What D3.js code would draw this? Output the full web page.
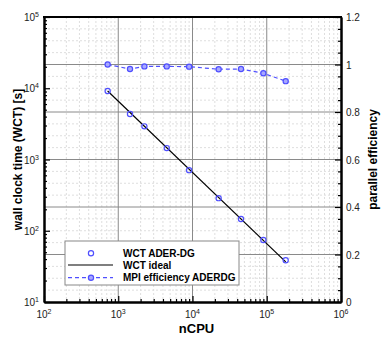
<!DOCTYPE html>
<html>
<head>
<meta charset="utf-8">
<script src="https://cdn.jsdelivr.net/npm/d3@7"></script>
<style>
	body { margin: 0; background: #fff; }
	svg { font-family: "Liberation Sans", Arial, sans-serif; }
</style>
</head>
<body>
<div id="plot"></div>
<script>
const margin = { top: 17, right: 41, bottom: 38, left: 44 },
	width = 382 - margin.left - margin.right,
	height = 340 - margin.top - margin.bottom;

// data
const ncpu = [720, 1440, 2250, 4500, 9000, 22500, 45000, 90000, 180000];
const wct = [9140, 4345, 2917, 1445, 709, 287, 146, 74, 38.6];
const idealCpu = [720, 180000];
const idealWct = [9140, 36.6];
const efficiency = [1.0, 0.981, 0.992, 0.992, 0.991, 0.98, 0.981, 0.963, 0.93];

const xTicks = [1e2, 1e3, 1e4, 1e5, 1e6];
const yTicks = [1e1, 1e2, 1e3, 1e4, 1e5];
const effTicks = [0, 0.2, 0.4, 0.6, 0.8, 1, 1.2];

const blue = "#4f4fff";

const svg = d3
	.select("#plot")
	.append("svg")
	.attr("width", 382)
	.attr("height", 340)
	.append("g")
	.attr("transform", `translate(${margin.left},${margin.top})`);

const x = d3.scaleLog().domain([1e2, 1e6]).range([0, width]);
const y = d3.scaleLog().domain([1e1, 1e5]).range([height, 0]);
const y2 = d3.scaleLinear().domain([0, 1.2]).range([height, 0]);

// minor values
const xMinor = [], yMinor = [];
for (let e = 2; e < 6; e++) for (let m = 2; m < 10; m++) xMinor.push(m * Math.pow(10, e));
for (let e = 1; e < 5; e++) for (let m = 2; m < 10; m++) yMinor.push(m * Math.pow(10, e));
const effMinor = d3.range(0, 1.2001, 0.05).filter((v) => Math.abs(v * 5 - Math.round(v * 5)) > 1e-6);

// grid
const grid = svg.append("g");
grid.selectAll(".vmin").data(xMinor).join("line")
	.attr("x1", (d) => x(d)).attr("x2", (d) => x(d))
	.attr("y1", 0).attr("y2", height)
	.attr("stroke", "#dedede").attr("stroke-dasharray", "2,2");
grid.selectAll(".hmin").data(effMinor).join("line")
	.attr("x1", 0).attr("x2", width)
	.attr("y1", (d) => y2(d)).attr("y2", (d) => y2(d))
	.attr("stroke", "#dedede").attr("stroke-dasharray", "2,2");
grid.selectAll(".vmaj").data(xTicks.slice(1, -1)).join("line")
	.attr("x1", (d) => x(d)).attr("x2", (d) => x(d))
	.attr("y1", 0).attr("y2", height)
	.attr("stroke", "#8a8a8a");
grid.selectAll(".hmaj").data(effTicks.slice(1, -1)).join("line")
	.attr("x1", 0).attr("x2", width)
	.attr("y1", (d) => y2(d)).attr("y2", (d) => y2(d))
	.attr("stroke", "#8a8a8a");

// axes with inward ticks
function styleAxis(g) {
	g.select(".domain").attr("stroke", "#000").attr("stroke-width", 2);
	g.selectAll(".tick line").attr("stroke", "#000").attr("stroke-width", 1.2);
	g.selectAll(".tick text").remove();
}

svg.append("g")
	.attr("transform", `translate(0,${height})`)
	.call(d3.axisBottom(x).tickValues(xTicks).tickSize(-6).tickSizeOuter(0))
	.call(styleAxis);
svg.append("g")
	.attr("transform", `translate(0,${height})`)
	.call(d3.axisBottom(x).tickValues(xMinor).tickSize(-3).tickSizeOuter(0))
	.call(styleAxis);
svg.append("g")
	.call(d3.axisLeft(y).tickValues(yTicks).tickSize(-6).tickSizeOuter(0))
	.call(styleAxis);
svg.append("g")
	.call(d3.axisLeft(y).tickValues(yMinor).tickSize(-3).tickSizeOuter(0))
	.call(styleAxis);
svg.append("g")
	.attr("transform", `translate(${width},0)`)
	.call(d3.axisRight(y2).tickValues(effTicks).tickSize(-6).tickSizeOuter(0))
	.call(styleAxis);
svg.append("g")
	.attr("transform", `translate(${width},0)`)
	.call(d3.axisRight(y2).tickValues(effMinor).tickSize(-3).tickSizeOuter(0))
	.call(styleAxis);
svg.append("line")
	.attr("x1", -1).attr("x2", width + 1).attr("y1", 0).attr("y2", 0)
	.attr("stroke", "#000").attr("stroke-width", 2);

// tick labels: 10 with exponent
function powLabel(g, tx, ty, anchor, exp) {
	const t = g.append("text")
		.attr("x", tx).attr("y", ty)
		.attr("text-anchor", anchor)
		.attr("font-size", 10)
		.attr("fill", "#222");
	t.append("tspan").text("10");
	t.append("tspan").attr("dy", -4).attr("font-size", 7).text(exp);
}
xTicks.forEach((d) => powLabel(svg, x(d), height + 16, "middle", Math.round(Math.log10(d))));
yTicks.forEach((d) => powLabel(svg, -5, y(d) + 4, "end", Math.round(Math.log10(d))));

svg.selectAll(".efflab").data(effTicks).join("text")
	.attr("x", width + 5)
	.attr("y", (d) => y2(d) + 4)
	.attr("font-size", 10)
	.attr("fill", "#222")
	.text((d) => d3.format("~g")(d));

// axis titles
svg.append("text")
	.attr("x", width / 2 + 4).attr("y", height + 31)
	.attr("text-anchor", "middle")
	.attr("font-size", 13).attr("font-weight", "bold")
	.text("nCPU");
svg.append("text")
	.attr("transform", `translate(-22,${height / 2}) rotate(-90)`)
	.attr("text-anchor", "middle")
	.attr("font-size", 12).attr("font-weight", "bold")
	.text("wall clock time (WCT) [s]");
svg.append("text")
	.attr("transform", `translate(${width + 36},${height / 2}) rotate(-90)`)
	.attr("text-anchor", "middle")
	.attr("font-size", 12).attr("font-weight", "bold")
	.text("parallel efficiency");

// ideal line
svg.append("path")
	.datum(idealCpu.map((c, i) => [c, idealWct[i]]))
	.attr("fill", "none")
	.attr("stroke", "#000")
	.attr("stroke-width", 1.2)
	.attr("d", d3.line().x((d) => x(d[0])).y((d) => y(d[1])));

// efficiency
svg.append("path")
	.datum(ncpu.map((c, i) => [c, efficiency[i]]))
	.attr("fill", "none")
	.attr("stroke", blue)
	.attr("stroke-width", 1.2)
	.attr("stroke-dasharray", "4,3")
	.attr("d", d3.line().x((d) => x(d[0])).y((d) => y2(d[1])));
svg.selectAll(".effpt").data(ncpu.map((c, i) => [c, efficiency[i]])).join("circle")
	.attr("cx", (d) => x(d[0])).attr("cy", (d) => y2(d[1]))
	.attr("r", 2.6)
	.attr("fill", "#a8a8ff").attr("stroke", blue).attr("stroke-width", 1.2);

// WCT points
svg.selectAll(".wctpt").data(ncpu.map((c, i) => [c, wct[i]])).join("circle")
	.attr("cx", (d) => x(d[0])).attr("cy", (d) => y(d[1]))
	.attr("r", 2.6)
	.attr("fill", "none").attr("stroke", blue).attr("stroke-width", 1.2);

// legend
const lg = svg.append("g").attr("transform", "translate(21,224)");
lg.append("rect")
	.attr("width", 174).attr("height", 44)
	.attr("fill", "#fff").attr("stroke", "#888");
const rows = [12.3, 24, 36.7];
lg.append("circle").attr("cx", 26).attr("cy", rows[0]).attr("r", 2.6)
	.attr("fill", "none").attr("stroke", blue).attr("stroke-width", 1.2);
lg.append("line").attr("x1", 3).attr("x2", 48).attr("y1", rows[1]).attr("y2", rows[1])
	.attr("stroke", "#000").attr("stroke-width", 1.2);
lg.append("line").attr("x1", 3).attr("x2", 48).attr("y1", rows[2]).attr("y2", rows[2])
	.attr("stroke", blue).attr("stroke-width", 1.2).attr("stroke-dasharray", "4,3");
lg.append("circle").attr("cx", 26).attr("cy", rows[2]).attr("r", 2.6)
	.attr("fill", "#a8a8ff").attr("stroke", blue).attr("stroke-width", 1.2);
["WCT ADER-DG", "WCT ideal", "MPI efficiency ADERDG"].forEach((t, i) => {
	lg.append("text")
		.attr("x", 58).attr("y", rows[i] + 3.6)
		.attr("font-size", 10).attr("font-weight", "bold")
		.text(t);
});
</script>
</body>
</html>
